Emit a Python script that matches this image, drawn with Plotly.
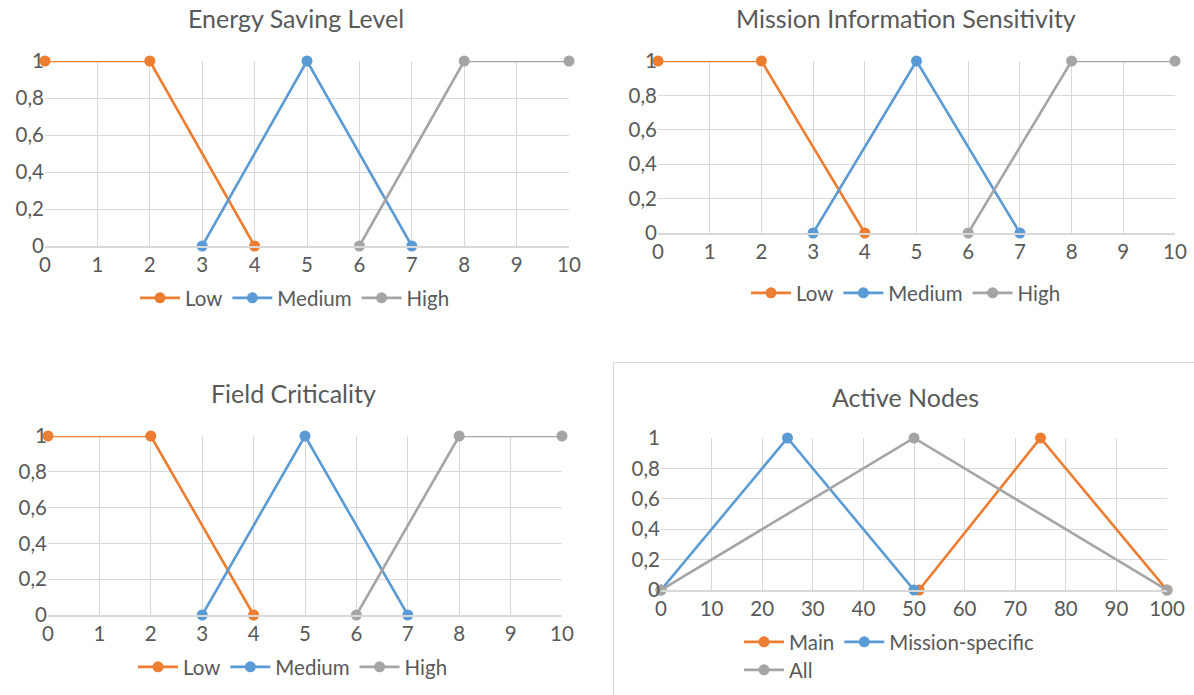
import plotly.graph_objects as go

# Membership functions for the three 0-10 scaled inputs
esl_x_low = [0, 2, 4]
esl_y_low = [1, 1, 0]
esl_x_med = [3, 5, 7]
esl_y_med = [0, 1, 0]
esl_x_high = [6, 8, 10]
esl_y_high = [0, 1, 1]

mis_x_low = [0, 2, 4]
mis_y_low = [1, 1, 0]
mis_x_med = [3, 5, 7]
mis_y_med = [0, 1, 0]
mis_x_high = [6, 8, 10]
mis_y_high = [0, 1, 1]

fc_x_low = [0, 2, 4]
fc_y_low = [1, 1, 0]
fc_x_med = [3, 5, 7]
fc_y_med = [0, 1, 0]
fc_x_high = [6, 8, 10]
fc_y_high = [0, 1, 1]

# Active nodes (percentage) membership functions
an_x_main = [51, 75, 100]
an_y_main = [0, 1, 0]
an_x_mission = [0, 25, 50]
an_y_mission = [0, 1, 0]
an_x_all = [0, 50, 100]
an_y_all = [0, 1, 0]

titles = ["Energy Saving Level", "Mission Information Sensitivity",
          "Field Criticality", "Active Nodes"]
level_names = ["Low", "Medium", "High"]
node_names = ["Main", "Mission-specific", "All"]

y_ticks = [0, 0.2, 0.4, 0.6, 0.8, 1]
y_tick_text = ["0", "0,2", "0,4", "0,6", "0,8", "1"]
x_ticks_10 = list(range(0, 11))
x_ticks_100 = list(range(0, 101, 10))

ORANGE = "#ED7D31"
BLUE = "#5B9BD5"
GRAY = "#A5A5A5"
TEXT = "#595959"
GRID = "#D9D9D9"
FONT = "Lato, Carlito, Calibri, sans-serif"

W, H = 1194, 695


def px_x(v):
    return v / W


def px_y(v):
    return 1 - v / H


fig = go.Figure()

panels = [
    # (xaxis id, yaxis id, x px range, y px range (top, bottom), legend id)
    ("x", "y", (45, 569), (61, 246), "legend"),
    ("x2", "y2", (658, 1175), (61, 233), "legend2"),
    ("x3", "y3", (48, 562), (436, 615), "legend3"),
    ("x4", "y4", (661, 1167), (438, 590), "legend4"),
]

level_data = [
    [(esl_x_low, esl_y_low), (esl_x_med, esl_y_med), (esl_x_high, esl_y_high)],
    [(mis_x_low, mis_y_low), (mis_x_med, mis_y_med), (mis_x_high, mis_y_high)],
    [(fc_x_low, fc_y_low), (fc_x_med, fc_y_med), (fc_x_high, fc_y_high)],
]
level_colors = [ORANGE, BLUE, GRAY]

for i in range(3):
    xa, ya, _, _, lg = panels[i]
    for (xs, ys), name, col in zip(level_data[i], level_names, level_colors):
        fig.add_trace(go.Scatter(
            x=xs, y=ys, name=name, mode="lines+markers",
            line=dict(color=col, width=2.6),
            marker=dict(color=col, size=11),
            xaxis=xa, yaxis=ya, legend=lg, cliponaxis=False,
        ))

node_data = [(an_x_main, an_y_main), (an_x_mission, an_y_mission), (an_x_all, an_y_all)]
node_legends = ["legend4", "legend4", "legend5"]
for (xs, ys), name, col, lg in zip(node_data, node_names, level_colors, node_legends):
    fig.add_trace(go.Scatter(
        x=xs, y=ys, name=name, mode="lines+markers",
        line=dict(color=col, width=2.6),
        marker=dict(color=col, size=11),
        xaxis="x4", yaxis="y4", legend=lg, cliponaxis=False,
    ))

axis_font = dict(family=FONT, size=20.5, color=TEXT)
layout = dict(
    width=W, height=H,
    margin=dict(l=0, r=0, t=0, b=0, autoexpand=False),
    paper_bgcolor="white", plot_bgcolor="white",
    font=dict(family=FONT, color=TEXT),
)

for idx, (xa, ya, (x0, x1), (yt, yb), lg) in enumerate(panels):
    xkey = "xaxis" if xa == "x" else "xaxis" + xa[1:]
    ykey = "yaxis" if ya == "y" else "yaxis" + ya[1:]
    xt = x_ticks_100 if idx == 3 else x_ticks_10
    layout[xkey] = dict(
        domain=[px_x(x0), px_x(x1)], anchor=ya, automargin=False,
        range=[xt[0], xt[-1]], tickvals=xt, ticktext=[str(v) for v in xt],
        showgrid=True, gridcolor=GRID, gridwidth=1,
        showline=True, linecolor=GRID, linewidth=1.5,
        zeroline=False, ticks="", tickfont=axis_font, fixedrange=True,
    )
    layout[ykey] = dict(
        domain=[px_y(yb), px_y(yt)], anchor=xa, automargin=False,
        range=[0, 1], tickvals=y_ticks, ticktext=y_tick_text,
        showgrid=True, gridcolor=GRID, gridwidth=1,
        showline=False, zeroline=False, ticks="", tickfont=axis_font,
        fixedrange=True,
    )

legend_common = dict(
    orientation="h", font=dict(family=FONT, size=20.5, color=TEXT),
    bgcolor="rgba(0,0,0,0)", itemwidth=40, tracegroupgap=0,
)
layout["legend"] = dict(legend_common, x=px_x(295), y=px_y(298), xanchor="center", yanchor="middle")
layout["legend2"] = dict(legend_common, x=px_x(906), y=px_y(293), xanchor="center", yanchor="middle")
layout["legend3"] = dict(legend_common, x=px_x(293), y=px_y(667), xanchor="center", yanchor="middle")
layout["legend4"] = dict(legend_common, x=px_x(739), y=px_y(642), xanchor="left", yanchor="middle")
layout["legend5"] = dict(legend_common, x=px_x(739), y=px_y(670), xanchor="left", yanchor="middle")

title_pos = [(296, 18), (906, 18), (293, 393), (905, 397)]
layout["annotations"] = [
    dict(text=t, x=px_x(cx), y=px_y(cy), xref="paper", yref="paper",
         xanchor="center", yanchor="middle", showarrow=False,
         font=dict(family=FONT, size=25, color=TEXT))
    for t, (cx, cy) in zip(titles, title_pos)
]

# Chart-area frame around the Active Nodes panel
layout["shapes"] = [
    dict(type="rect", xref="paper", yref="paper",
         x0=px_x(613.5), x1=1.02, y0=-0.02, y1=px_y(362.5),
         line=dict(color=GRID, width=1), fillcolor="rgba(0,0,0,0)", layer="below"),
]

fig.update_layout(**layout)
fig.write_html("out.html")
